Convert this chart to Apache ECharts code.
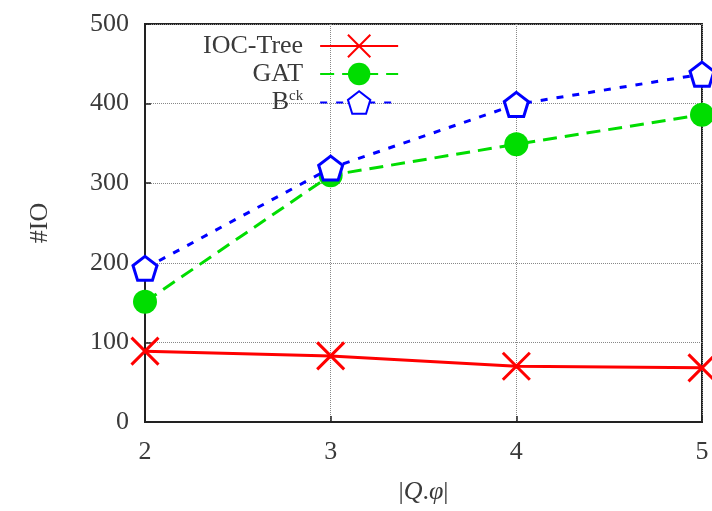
<!DOCTYPE html>
<html><head><meta charset="utf-8">
<script src="https://cdn.jsdelivr.net/npm/echarts@6/dist/echarts.min.js"></script>
<style>html,body{margin:0;padding:0;background:#fff}#c{width:712px;height:511px}</style>
</head><body><div id="c"></div>
<script>
var xValues = [2, 3, 4, 5];
var iocTree = [89, 83, 70, 68];
var gat = [151, 310, 349, 386];
var bck = [193, 319, 399, 437];
var seriesNames = ['IOC-Tree', 'GAT', 'Bck'];

function pairs(vals){ return xValues.map(function(x,i){ return [x, vals[i]]; }); }
var serif = '"Liberation Serif", "DejaVu Serif", serif';
var crossPath = 'path://M0,0L10,10M10,0L0,10';
var pentPath = 'path://M5,0L9.76,3.45L7.94,9.05L2.06,9.05L0.24,3.45Z';
var txt = '#3a3a3a';

var chart = echarts.init(document.getElementById('c'), null, {renderer:'canvas'});
chart.setOption({
  animation:false,
  backgroundColor:'#fff',
  grid:{left:145,right:10,top:24,bottom:89,containLabel:false,outerBoundsMode:'none',show:true,borderColor:'#222',borderWidth:2,backgroundColor:'transparent'},
  legend:{
    orient:'vertical', left:198, top:28, align:'right',
    itemWidth:78, itemHeight:28, itemGap:2,
    data:seriesNames,
    formatter:function(n){ return n==='Bck' ? 'B{sup|ck}' : n; },
    textStyle:{fontFamily:serif,fontSize:26,color:txt,width:120,align:'right',padding:[0,12,0,0],
      rich:{sup:{fontFamily:serif,fontSize:15,color:txt,verticalAlign:'top',padding:[0,0,12,0]}}}
  },
  xAxis:{type:'value',min:2,max:5,interval:1,
    name:'|{i|Q}.{i|φ}|',nameLocation:'middle',nameGap:57,
    nameTextStyle:{fontFamily:serif,fontSize:26,color:txt,rich:{i:{fontFamily:serif,fontSize:26,fontStyle:'italic',color:txt}}},
    axisLine:{show:true,lineStyle:{color:'#222',width:2}},
    axisTick:{show:true,inside:true,length:6,lineStyle:{color:'#222',width:1.5}},
    axisLabel:{fontFamily:serif,fontSize:26,color:txt,margin:17},
    splitLine:{show:true,lineStyle:{color:'#888',type:'dotted',width:1}}
  },
  yAxis:{type:'value',min:0,max:500,interval:100,
    name:'#IO',nameLocation:'middle',nameGap:92,nameRotate:90,
    nameTextStyle:{fontFamily:serif,fontSize:26,color:txt},
    axisLine:{show:true,lineStyle:{color:'#222',width:2}},
    axisTick:{show:true,inside:true,length:6,lineStyle:{color:'#222',width:1.5}},
    axisLabel:{fontFamily:serif,fontSize:26,color:txt,margin:16},
    splitLine:{show:true,lineStyle:{color:'#888',type:'dotted',width:1}}
  },
  series:[
    {name:'IOC-Tree',type:'line',data:pairs(iocTree),symbol:crossPath,symbolSize:27,
     lineStyle:{color:'#ff0000',width:3,type:'solid'},
     itemStyle:{color:'rgba(0,0,0,0)',borderColor:'#ff0000',borderWidth:3},z:3},
    {name:'GAT',type:'line',data:pairs(gat),symbol:'circle',symbolSize:24,
     lineStyle:{color:'#00dd00',width:3,type:[14,8]},
     itemStyle:{color:'#00dd00',borderColor:'#00dd00',borderWidth:0},z:4},
    {name:'Bck',type:'line',data:pairs(bck),symbol:pentPath,symbolSize:24,
     lineStyle:{color:'#0000ff',width:3,type:[7,9]},
     itemStyle:{color:'#ffffff',borderColor:'#0000ff',borderWidth:3},z:5}
  ]
});
</script></body></html>
